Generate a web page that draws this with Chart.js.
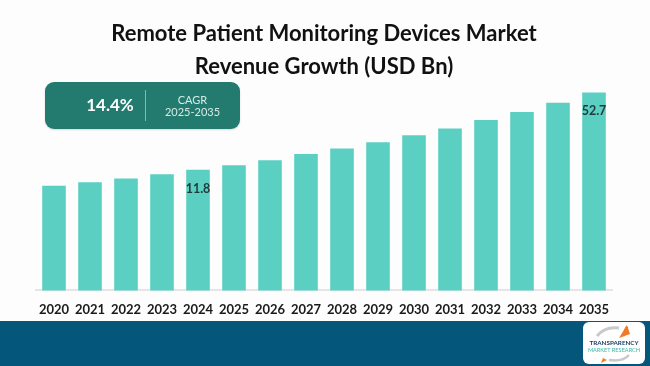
<!DOCTYPE html>
<html>
<head>
<meta charset="utf-8">
<script src="https://cdn.jsdelivr.net/npm/chart.js@4.4.1/dist/chart.umd.min.js"></script>
<style>
    html, body { margin: 0; padding: 0; background: #fdfdfd; }
    #wrap { position: relative; width: 650px; height: 366px; overflow: hidden; font-family: Lato, "Open Sans", sans-serif; }
    #band { position: absolute; left: 0; top: 321px; width: 650px; height: 45px; background: #04577a; }
    #chart { position: absolute; left: 0; top: 0; }
    #cagr { position: absolute; left: 45px; top: 82px; width: 195px; height: 47px; border-radius: 9px; background: #237a6f; box-shadow: 0 1px 2px rgba(0,0,0,0.15); color: #fff; }
    #cagr .big { position: absolute; left: 0; width: 100px; top: 0; line-height: 46px; text-align: center; padding-left: 30px; box-sizing: border-box; font-weight: 700; font-size: 17px; }
    #cagr .sep { position: absolute; left: 100px; top: 8px; width: 1px; height: 31px; background: rgba(255,255,255,0.45); }
    #cagr .small { position: absolute; left: 100px; width: 95px; top: 12px; text-align: center; font-size: 11px; line-height: 12px; color: #d6ebe7; }
    #logo { position: absolute; left: 583px; top: 322px; width: 62px; height: 42px; background: #fff; border-radius: 6px; }
</style>
</head>
<body>
<div id="wrap">
    <div id="band"></div>
    <canvas id="chart" width="650" height="366"></canvas>
    <div id="cagr">
        <div class="big">14.4%</div>
        <div class="sep"></div>
        <div class="small">CAGR<br>2025-2035</div>
    </div>
    <div id="logo">
        <svg width="62" height="42" viewBox="0 0 62 42">
            <path d="M14 14 Q22 4 36 6" stroke="#c9c9c9" stroke-width="3" fill="none"/>
            <path d="M36 16 L44 3 L47 12 Z" fill="#f07b26"/>
            <path d="M40 14 L44 5" stroke="#f07b26" stroke-width="3"/>
            <text x="31" y="23" text-anchor="middle" font-family="Lato" font-weight="700" font-size="6.3" fill="#1d3f66">TRANSPARENCY</text>
            <text x="31" y="30" text-anchor="middle" font-family="Lato" font-size="5.6" fill="#3cb5a8">MARKET RESEARCH</text>
            <path d="M20 36 L18 41 L24 38 Z" fill="#f07b26"/>
            <path d="M46 33 Q40 40 26 38" stroke="#c9c9c9" stroke-width="2.5" fill="none"/>
        </svg>
    </div>
</div>
<script>
// data (USD Bn)
const years = ['2020', '2021', '2022', '2023', '2024', '2025', '2026', '2027',
    '2028', '2029', '2030', '2031', '2032', '2033', '2034', '2035'];
const revenue = [3.3, 5.2, 7.2, 9.5, 11.8, 14.2, 16.9, 20.1,
    23.1, 26.3, 30.1, 33.7, 38.1, 42.3, 47.3, 52.7];
const labelled = ['2024', '2035']; // only these bars carry a value label

// value axis of the picture does not start at zero
const Y_MIN = -52;
const Y_MAX = 54;

const valueLabels = {
    id: 'valueLabels',
    afterDatasetsDraw(chart) {
        const ctx = chart.ctx;
        const meta = chart.getDatasetMeta(0);
        ctx.save();
        ctx.font = 'bold 12.5px Lato, sans-serif';
        ctx.fillStyle = '#1e3a3a';
        ctx.textAlign = 'center';
        ctx.textBaseline = 'middle';
        meta.data.forEach((bar, i) => {
            if (!labelled.includes(years[i])) return;
            ctx.fillText(revenue[i].toFixed(1), bar.x, bar.y + 19);
        });
        ctx.restore();
    }
};

const data = {
    labels: years,
    datasets: [{
        data: revenue,
        base: Y_MIN,
        backgroundColor: '#5bcfc2',
        borderWidth: 0,
        barPercentage: 0.656,
        categoryPercentage: 1.0,
        clip: false
    }]
};

const config = {
    type: 'bar',
    data: data,
    options: {
        responsive: false,
        animation: false,
        layout: { padding: { left: 36, right: 38, top: 0, bottom: 44 } },
        plugins: {
            legend: { display: false },
            tooltip: { enabled: false },
            title: {
                display: true,
                text: ['Remote Patient Monitoring Devices Market', 'Revenue Growth (USD Bn)'],
                color: '#111',
                font: { family: 'Lato', weight: 'bold', size: 22, lineHeight: 1.5 },
                padding: { top: 17, bottom: 7 }
            }
        },
        scales: {
            x: {
                grid: { display: false },
                border: { display: true, color: '#e6e6e6', width: 2 },
                ticks: {
                    color: '#1a1a1a',
                    padding: 4,
                    font: { family: 'Lato', weight: 'bold', size: 13 },
                    maxRotation: 0,
                    autoSkip: false
                }
            },
            y: {
                display: false,
                min: Y_MIN,
                max: Y_MAX
            }
        }
    },
    plugins: [valueLabels]
};

const myChart = new Chart(document.getElementById('chart'), config);
</script>
</body>
</html>
